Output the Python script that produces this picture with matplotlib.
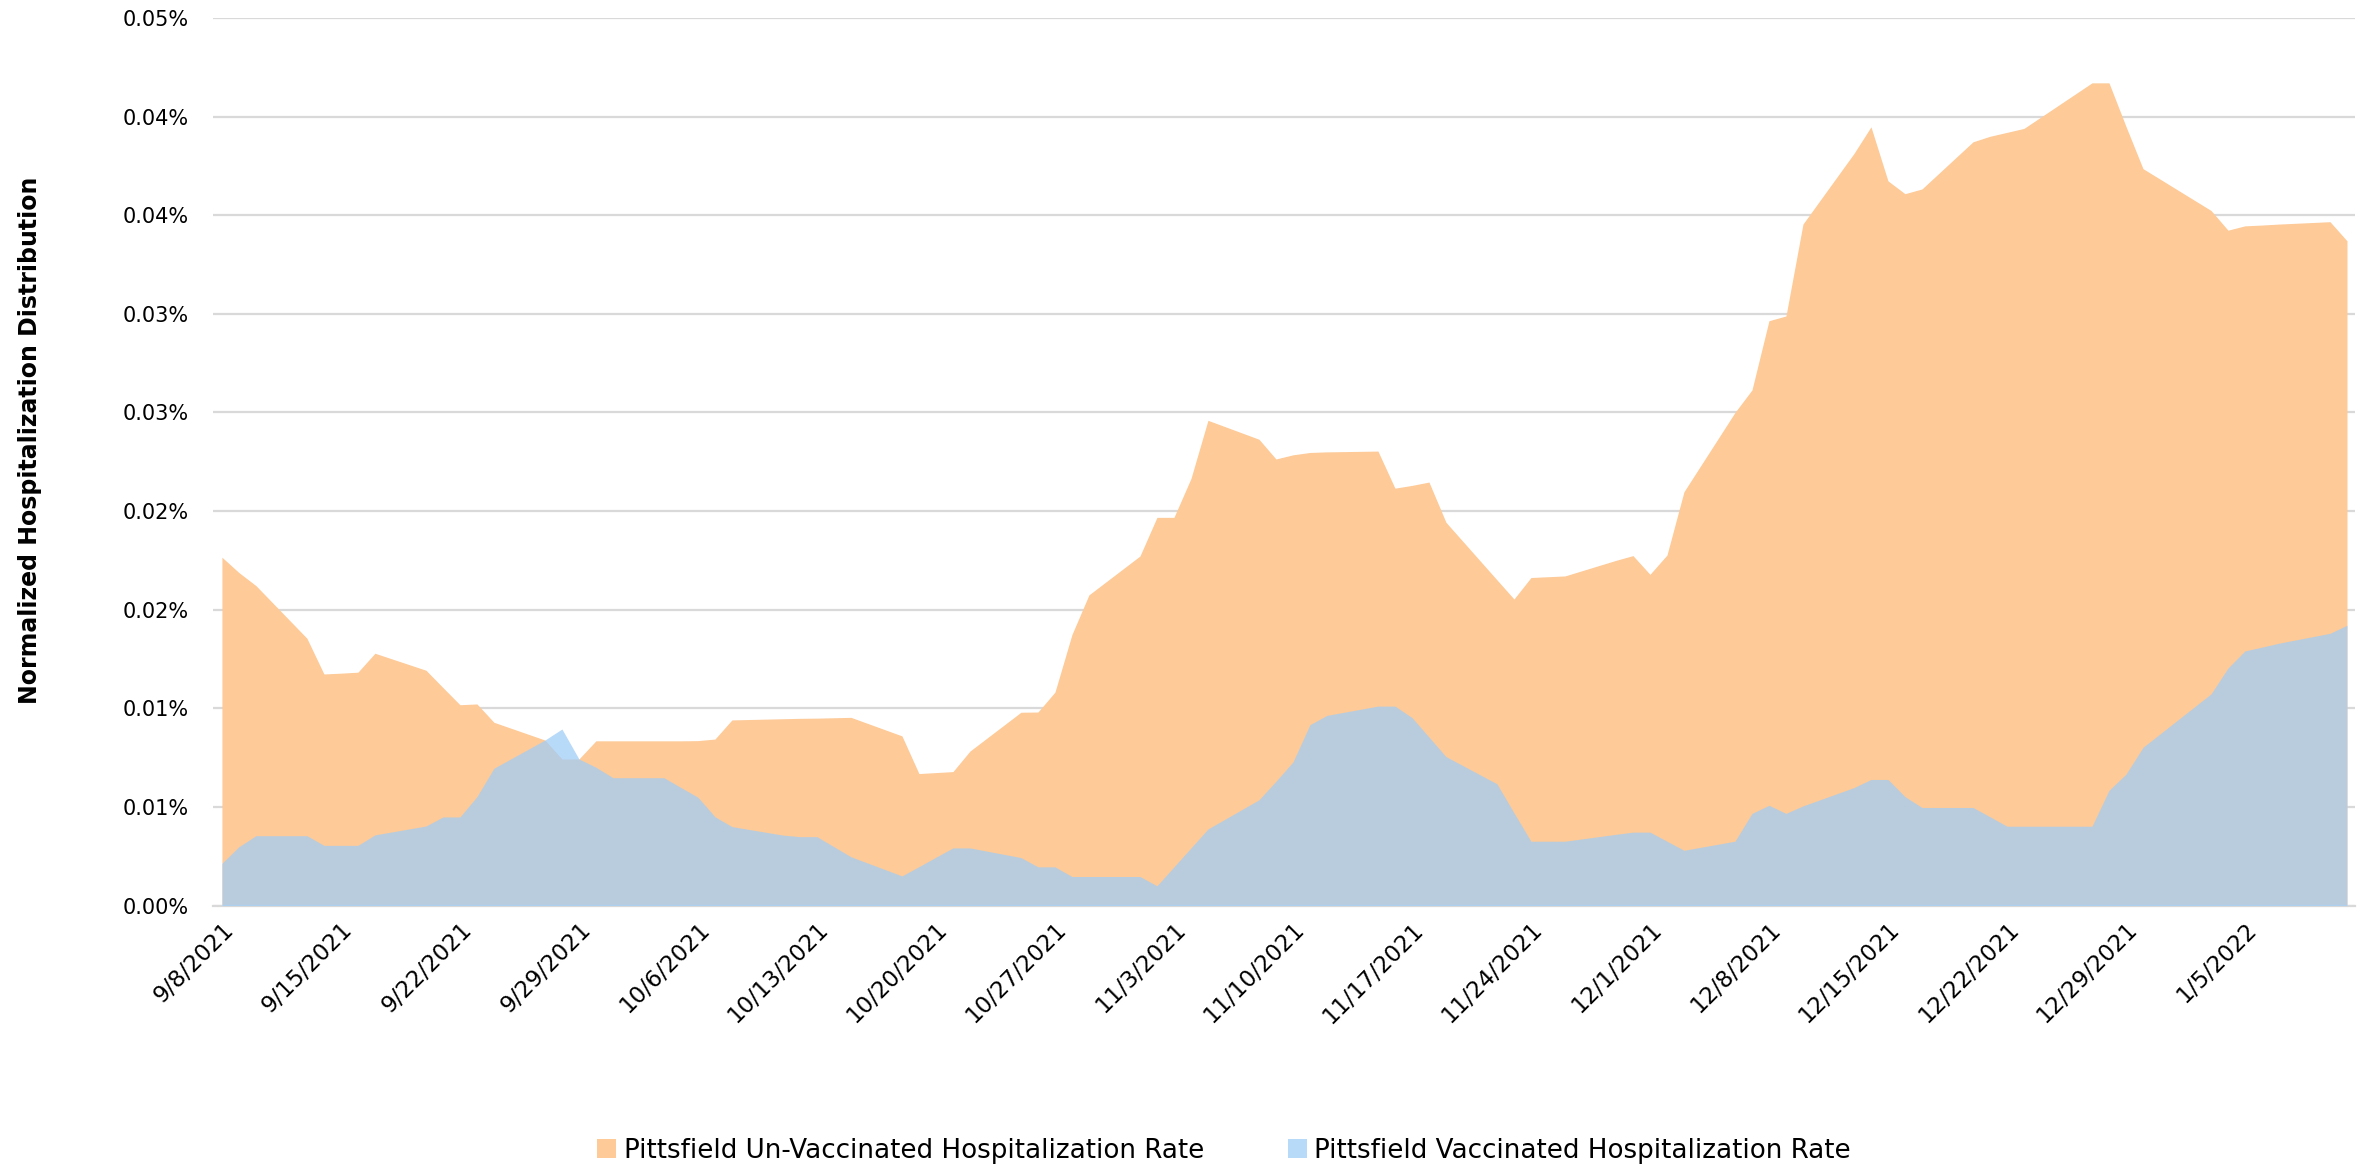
"""
Pittsfield hospitalization rate - un-vaccinated vs vaccinated (overlapping areas)
"""
import pandas as pd
import matplotlib
matplotlib.use("Agg")
import matplotlib.pyplot as plt

# daily values (weekdays), in percent
dates = [
    "2021-09-08", "2021-09-09", "2021-09-10", "2021-09-13", "2021-09-14", "2021-09-15",
    "2021-09-16", "2021-09-17", "2021-09-20", "2021-09-21", "2021-09-22", "2021-09-23",
    "2021-09-24", "2021-09-27", "2021-09-28", "2021-09-29", "2021-09-30", "2021-10-01",
    "2021-10-04", "2021-10-05", "2021-10-06", "2021-10-07", "2021-10-08", "2021-10-11",
    "2021-10-12", "2021-10-13", "2021-10-14", "2021-10-15", "2021-10-18", "2021-10-19",
    "2021-10-20", "2021-10-21", "2021-10-22", "2021-10-25", "2021-10-26", "2021-10-27",
    "2021-10-28", "2021-10-29", "2021-11-01", "2021-11-02", "2021-11-03", "2021-11-04",
    "2021-11-05", "2021-11-08", "2021-11-09", "2021-11-10", "2021-11-11", "2021-11-12",
    "2021-11-15", "2021-11-16", "2021-11-17", "2021-11-18", "2021-11-19", "2021-11-22",
    "2021-11-23", "2021-11-24", "2021-11-26", "2021-11-29", "2021-11-30", "2021-12-01",
    "2021-12-02", "2021-12-03", "2021-12-06", "2021-12-07", "2021-12-08", "2021-12-09",
    "2021-12-10", "2021-12-13", "2021-12-14", "2021-12-15", "2021-12-16", "2021-12-17",
    "2021-12-20", "2021-12-21", "2021-12-22", "2021-12-23", "2021-12-27", "2021-12-28",
    "2021-12-29", "2021-12-30", "2022-01-03", "2022-01-04", "2022-01-05", "2022-01-06",
    "2022-01-07", "2022-01-10", "2022-01-11",
]

unvax = [
    0.01766, 0.01688, 0.01622, 0.01355, 0.01174, 0.01178,
    0.01183, 0.01279, 0.01193, 0.01105, 0.01018, 0.01022,
    0.00929, 0.00839, 0.00743, 0.00743, 0.00835, 0.00835,
    0.00835, 0.00835, 0.00836, 0.00844, 0.00941, 0.00947,
    0.00949, 0.00950, 0.00952, 0.00954, 0.00860, 0.00669,
    0.00674, 0.00679, 0.00783, 0.00980, 0.00981, 0.01082,
    0.01374, 0.01575, 0.01772, 0.01968, 0.01968, 0.02165,
    0.02460, 0.02364, 0.02264, 0.02285, 0.02297, 0.02300,
    0.02304, 0.02116, 0.02130, 0.02147, 0.01943, 0.01651,
    0.01554, 0.01663, 0.01671, 0.01750, 0.01774, 0.01679,
    0.01777, 0.02098, 0.02500, 0.02614, 0.02965, 0.02989,
    0.03455, 0.03813, 0.03948, 0.03674, 0.03609, 0.03633,
    0.03872, 0.03900, 0.03920, 0.03940, 0.04171, 0.04171,
    0.03950, 0.03736, 0.03524, 0.03424, 0.03446, 0.03450,
    0.03455, 0.03467, 0.03370,
]

vax = [
    0.00214, 0.00298, 0.00354, 0.00354, 0.00305, 0.00305,
    0.00305, 0.00358, 0.00403, 0.00449, 0.00449, 0.00552,
    0.00696, 0.00839, 0.00895, 0.00743, 0.00701, 0.00648,
    0.00648, 0.00598, 0.00549, 0.00450, 0.00400, 0.00357,
    0.00349, 0.00349, 0.00298, 0.00247, 0.00150, 0.00197,
    0.00245, 0.00292, 0.00292, 0.00243, 0.00196, 0.00196,
    0.00147, 0.00147, 0.00147, 0.00100, 0.00196, 0.00292,
    0.00388, 0.00536, 0.00630, 0.00728, 0.00917, 0.00964,
    0.01011, 0.01011, 0.00953, 0.00854, 0.00755, 0.00617,
    0.00470, 0.00326, 0.00326, 0.00361, 0.00372, 0.00372,
    0.00326, 0.00280, 0.00326, 0.00467, 0.00508, 0.00467,
    0.00505, 0.00598, 0.00639, 0.00639, 0.00552, 0.00497,
    0.00497, 0.00450, 0.00402, 0.00402, 0.00402, 0.00584,
    0.00666, 0.00802, 0.01073, 0.01204, 0.01291, 0.01310,
    0.01330, 0.01380, 0.01421,
]

tick_dates = pd.date_range("2021-09-08", "2022-01-05", freq="7D")
ytick_vals = [0.0, 0.005, 0.010, 0.015, 0.020, 0.025, 0.030, 0.035, 0.040, 0.045]
ytick_labels = ["0.00%", "0.01%", "0.01%", "0.02%", "0.02%",
                "0.03%", "0.03%", "0.04%", "0.04%", "0.05%"]

names = ["Pittsfield Un-Vaccinated Hospitalization Rate",
         "Pittsfield Vaccinated Hospitalization Rate"]

x = pd.to_datetime(dates)

fig = plt.figure(figsize=(23.74, 11.66), dpi=100)
ax = fig.add_axes([0.0899, 0.2234, 0.9023, 0.7612])

ax.fill_between(x, unvax, color="#FDCA98", lw=0, label=names[0], zorder=2)
ax.fill_between(x, vax, color="#A0CDF8", alpha=0.74, lw=0, label=names[1], zorder=3)

# date axis padded by half a day on each side, like the original
half = pd.Timedelta(hours=12)
ax.set_xlim(x[0] - half, x[-1] + half)
ax.set_ylim(0, 0.045)

ax.set_yticks(ytick_vals)
ax.set_yticklabels(ytick_labels, fontsize=15)
ax.set_xticks(tick_dates)
ax.set_xticklabels([f"{d.month}/{d.day}/{d.year}" for d in tick_dates],
                   rotation=45, ha="right", va="top", rotation_mode="anchor", fontsize=16.5)
ax.tick_params(axis="both", length=0)
ax.tick_params(axis="y", pad=18)
ax.tick_params(axis="x", pad=9)

ax.set_axisbelow(True)
ax.yaxis.grid(True, color="#D9D9D9", lw=1.6)
for s in ["top", "right", "left"]:
    ax.spines[s].set_visible(False)
ax.spines["bottom"].set_color("#D9D9D9")
ax.spines["bottom"].set_linewidth(1.6)

fig.text(0.0125, 0.6226, "Normalized Hospitalization Distribution", rotation=90,
         ha="center", va="center", fontsize=17, fontweight="bold")

fig.legend(loc="center", bbox_to_anchor=(0.5157, 0.013), ncol=2, frameon=False,
           handlelength=0.72, handleheight=0.72, handletextpad=0.3, columnspacing=3.2,
           fontsize=18.8)

fig.savefig("out.png", dpi=100)
